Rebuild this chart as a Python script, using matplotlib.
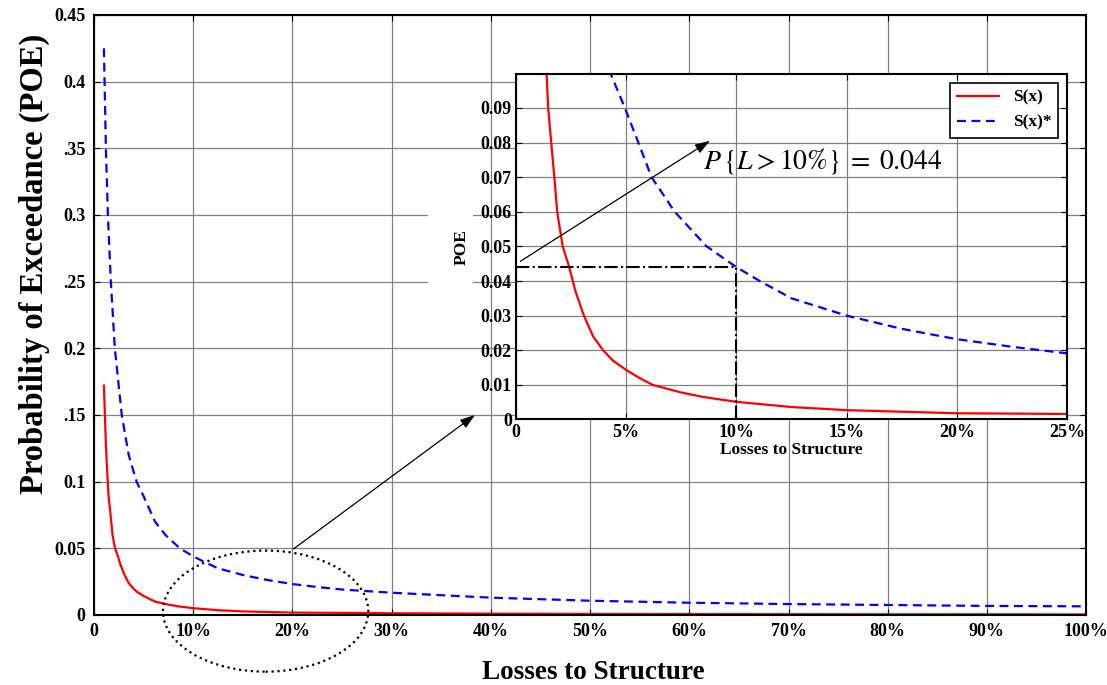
import numpy as np
import matplotlib
matplotlib.use('Agg')
import matplotlib.pyplot as plt
from matplotlib.patches import Ellipse, Rectangle

plt.rcParams['font.family'] = ['Liberation Serif', 'DejaVu Serif']
plt.rcParams['mathtext.fontset'] = 'stix'

# losses (%) and probability of exceedance read for both curves
loss_s = [1.0, 1.1, 1.2, 1.3, 1.39, 1.46, 1.6, 1.74, 1.87, 2.12, 2.37, 2.7, 3.08,
          3.5, 3.95, 4.4, 5.0, 5.6, 6.2, 7.5, 8.5, 10, 12.5, 15, 20, 25, 30, 40,
          50, 60, 70, 80, 90, 100]
poe_s = [0.172, 0.15, 0.128, 0.112, 0.0998, 0.09, 0.08, 0.07, 0.06, 0.05, 0.045,
         0.037, 0.03, 0.024, 0.02, 0.017, 0.0143, 0.012, 0.01, 0.0078, 0.0065,
         0.0051, 0.0036, 0.0027, 0.0018, 0.0016, 0.0013, 0.001, 0.0008, 0.0007,
         0.0006, 0.0005, 0.0005, 0.0004]

loss_star = [1.0, 1.2, 1.4, 1.7, 2.1, 2.8, 3.5, 4.3, 4.94, 5.55, 6.15, 7.2, 8.65,
             10, 11.06, 12.5, 15, 17.5, 20, 22.5, 25, 30, 40, 50, 60, 70, 80, 90, 100]
poe_star = [0.425, 0.35, 0.30, 0.25, 0.2, 0.15, 0.12, 0.0998, 0.09, 0.08, 0.07,
            0.06, 0.05, 0.044, 0.04, 0.035, 0.03, 0.0262, 0.0232, 0.021, 0.0191,
            0.0167, 0.013, 0.0107, 0.0092, 0.0082, 0.0075, 0.0068, 0.0065]

main_yticks = [0, 0.05, 0.1, 0.15, 0.2, 0.25, 0.3, 0.35, 0.4, 0.45]
main_ylabels = ['0', '0.05', '0.1', '.15', '0.2', '.25', '0.3', '.35', '0.4', '0.45']
main_xticks = list(range(0, 101, 10))
main_xlabels = ['0'] + ['%d%%' % v for v in main_xticks[1:]]

ins_yticks = [0, 0.01, 0.02, 0.03, 0.04, 0.05, 0.06, 0.07, 0.08, 0.09]
ins_ylabels = ['0'] + ['%.2f' % v for v in ins_yticks[1:]]
ins_xticks = [0, 5, 10, 15, 20, 25]
ins_xlabels = ['0'] + ['%d%%' % v for v in ins_xticks[1:]]

loss_mark = 10
poe_mark = 0.044

fig = plt.figure(figsize=(11.07, 6.85), dpi=100)

ax = fig.add_axes([0.0849, 0.1022, 0.8963, 0.876])
ax.plot(loss_s, poe_s, color='red', lw=1.6)
ax.plot(loss_star, poe_star, color='blue', lw=1.6, ls=(0, (4, 2.5)))
ax.set_xlim(0, 100)
ax.set_ylim(0, 0.45)
ax.set_xticks(main_xticks)
ax.set_xticklabels(main_xlabels, fontweight='bold')
ax.set_yticks(main_yticks)
ax.set_yticklabels(main_ylabels, fontweight='bold')
ax.tick_params(direction='in', top=True, right=True, labelsize=13, length=4, pad=6)
ax.grid(True, color='0.5', lw=0.9)
for sp in ax.spines.values():
    sp.set_linewidth(1.5)
ax.set_xlabel('Losses to Structure', fontsize=19.5, fontweight='bold', va='top')
ax.xaxis.set_label_coords(0.503, -0.075)
ax.set_ylabel('Probability of Exceedance (POE)', fontsize=23.5, fontweight='bold',
              va='center')
ax.yaxis.set_label_coords(-0.06, 0.585)

# dotted ellipse around the zoomed region
ell = Ellipse((17.3, 0.0029), 20.7, 0.0908, fill=False, ls=':', lw=1.6,
              color='black', clip_on=False, zorder=5)
ax.add_patch(ell)
ax.annotate('', xy=(38.4, 0.15), xytext=(20.1, 0.0495),
            arrowprops=dict(arrowstyle='-|>,head_length=0.9,head_width=0.3',
                            color='black', lw=0.9, shrinkA=0, shrinkB=0))

# blank patch behind the inset's y label
fig.patches.append(Rectangle((0.3866, 0.5401), 0.0407, 0.197, transform=fig.transFigure,
                             facecolor='white', edgecolor='none', zorder=1))

ins = fig.add_axes([0.4661, 0.3876, 0.4978, 0.5044], facecolor='white', zorder=3)
ins.plot(loss_s, poe_s, color='red', lw=1.6, label='S(x)')
ins.plot(loss_star, poe_star, color='blue', lw=1.6, ls=(0, (4, 2.5)), label='S(x)*')
ins.plot([0, loss_mark], [poe_mark, poe_mark], color='black', lw=1.5, ls='-.')
ins.plot([loss_mark, loss_mark], [0, poe_mark], color='black', lw=1.5, ls='-.')
ins.set_xlim(0, 25)
ins.set_ylim(0, 0.0998)
ins.set_xticks(ins_xticks)
ins.set_xticklabels(ins_xlabels, fontweight='bold')
ins.set_yticks(ins_yticks)
ins.set_yticklabels(ins_ylabels, fontweight='bold')
ins.tick_params(direction='in', top=True, right=True, labelsize=13, length=4, pad=3)
ins.grid(True, color='0.5', lw=0.9)
for sp in ins.spines.values():
    sp.set_linewidth(1.5)
ins.set_xlabel('Losses to Structure', fontsize=12.5, fontweight='bold', labelpad=1)
ins.set_ylabel('POE', fontsize=12.5, fontweight='bold', labelpad=8)
leg = ins.legend(loc='upper right', handlelength=2.4, fancybox=False,
                 edgecolor='black', framealpha=1, borderaxespad=0.5,
                 prop={'weight': 'bold', 'size': 12.5})
leg.get_frame().set_linewidth(1.2)

ins.annotate('', xy=(8.8, 0.0805), xytext=(0.2, 0.0457),
             arrowprops=dict(arrowstyle='-|>,head_length=0.9,head_width=0.3',
                             color='black', lw=0.9, shrinkA=0, shrinkB=0))
ins.text(8.5, 0.0747, r'$P\,\left\{L>10\%\right\}\;=\;0.044$', fontsize=20,
         va='center', ha='left')

fig.savefig('out.png', dpi=100)
